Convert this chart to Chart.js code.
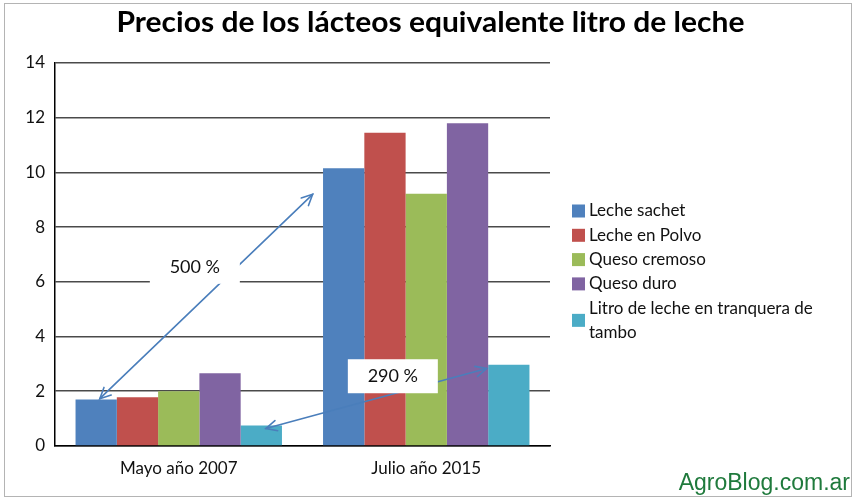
<!DOCTYPE html>
<html>
<head>
<meta charset="utf-8">
<script src="https://cdn.jsdelivr.net/npm/chart.js@4"></script>
<style>
  html, body { margin: 0; padding: 0; background: #fff; }
  #wrap { position: relative; width: 861px; height: 504px; }
  #frame { position: absolute; left: 4px; top: 3px; width: 848px; height: 494px; border: 1px solid #b4b4b4; box-sizing: border-box; pointer-events: none; }
  #marca { position: absolute; right: 11px; top: 469px; font: 23px "Liberation Sans", Arial, sans-serif; color: #1f7a3c; }
</style>
</head>
<body>
<div id="wrap">
  <canvas id="chart" width="861" height="504"></canvas>
  <div id="frame"></div>
  <div id="marca">AgroBlog.com.ar</div>
</div>
<script>
// datos
const titulo = 'Precios de los lácteos equivalente litro de leche';
const periodos = ['Mayo año 2007', 'Julio año 2015'];
const lecheSachet = [1.70, 10.15];
const lecheEnPolvo = [1.78, 11.45];
const quesoCremoso = [2.0, 9.22];
const quesoDuro = [2.66, 11.8];
const litroTambo = [0.75, 2.97];
const nombres = ['Leche sachet', 'Leche en Polvo', 'Queso cremoso', 'Queso duro', 'Litro de leche en tranquera de tambo'];
const colores = ['#4f81bd', '#c0504d', '#9bbb59', '#8064a2', '#4bacc6'];
const ticksY = [0, 2, 4, 6, 8, 10, 12, 14];

// flechas con porcentaje (en coordenadas de los ejes)
const textoFlechas = ['500 %', '290 %'];
const posTexto = [[0.065, 6.55], [0.865, 2.55]];
const desde = [[-0.319, 1.73], [0.352, 0.64]];
const hasta = [[0.541, 9.2], [1.244, 2.83]];

const fuente = 'Lato, "Open Sans", sans-serif';

// título centrado en todo el lienzo (el de Chart.js queda corrido por el padding)
const tituloPlugin = {
    id: 'tituloPlugin',
    afterDraw(chart) {
        const c = chart.ctx;
        c.save();
        c.font = 'bold 28px ' + fuente;
        c.fillStyle = '#000';
        c.textBaseline = 'alphabetic';
        const w = c.measureText(titulo).width;
        const k = 628 / w;
        c.translate(chart.width / 2, 32);
        c.scale(k, 1);
        c.textAlign = 'center';
        c.fillText(titulo, 0, 0);
        c.restore();
    }
};

// leyenda a la derecha, dibujada a mano para poder cortar el texto largo
const leyenda = {
    id: 'leyenda',
    afterDraw(chart) {
        const c = chart.ctx;
        c.save();
        c.font = '17px ' + fuente;
        c.textBaseline = 'middle';
        c.fillStyle = '#111';
        let y = 211;
        chart.data.datasets.forEach(ds => {
            // partir en líneas
            const palabras = ds.label.split(' ');
            const lineas = [];
            let actual = '';
            palabras.forEach(p => {
                const prueba = actual ? actual + ' ' + p : p;
                if (c.measureText(prueba).width > 250 && actual) {
                    lineas.push(actual);
                    actual = p;
                } else {
                    actual = prueba;
                }
            });
            lineas.push(actual);
            const medio = y + (lineas.length - 1) * 24.3 / 2;
            c.fillStyle = ds.backgroundColor;
            c.fillRect(572, medio - 6.5, 13, 13);
            c.fillStyle = '#111';
            lineas.forEach((l, i) => c.fillText(l, 589, y + i * 24.3));
            y += lineas.length * 24.3;
        });
        c.restore();
    }
};

function flecha(c, x1, y1, x2, y2) {
    const ang = Math.atan2(y2 - y1, x2 - x1);
    c.beginPath();
    c.moveTo(x1, y1);
    c.lineTo(x2, y2);
    c.stroke();
    [[x1, y1, ang + Math.PI], [x2, y2, ang]].forEach(([x, y, a]) => {
        c.beginPath();
        c.moveTo(x - 12 * Math.cos(a - 0.45), y - 12 * Math.sin(a - 0.45));
        c.lineTo(x, y);
        c.lineTo(x - 12 * Math.cos(a + 0.45), y - 12 * Math.sin(a + 0.45));
        c.stroke();
    });
}

const anotaciones = {
    id: 'anotaciones',
    afterDatasetsDraw(chart) {
        const c = chart.ctx;
        const sx = chart.scales.x, sy = chart.scales.y;
        c.save();
        c.strokeStyle = '#4a7ebb';
        c.lineWidth = 1.6;
        c.lineCap = 'round';
        textoFlechas.forEach((t, i) => {
            flecha(c, sx.getPixelForValue(desde[i][0]), sy.getPixelForValue(desde[i][1]),
                sx.getPixelForValue(hasta[i][0]), sy.getPixelForValue(hasta[i][1]));
        });
        c.font = '18px ' + fuente;
        c.textAlign = 'center';
        c.textBaseline = 'middle';
        textoFlechas.forEach((t, i) => {
            const x = sx.getPixelForValue(posTexto[i][0]);
            const y = sy.getPixelForValue(posTexto[i][1]);
            c.fillStyle = '#fff';
            c.fillRect(x - 45, y - 17, 90, 34);
            c.fillStyle = '#111';
            c.fillText(t, x, y);
        });
        c.restore();
    }
};

const series = [lecheSachet, lecheEnPolvo, quesoCremoso, quesoDuro, litroTambo];

const ctx = document.getElementById('chart').getContext('2d');
const chart = new Chart(ctx, {
    type: 'bar',
    data: {
        labels: periodos,
        datasets: series.map((d, i) => ({
            label: nombres[i],
            data: d,
            backgroundColor: colores[i],
            borderWidth: 0,
            barPercentage: 1,
            categoryPercentage: 0.834
        }))
    },
    options: {
        responsive: false,
        animation: false,
        layout: { padding: { left: 0, right: 311, top: 63, bottom: 0 } },
        plugins: {
            legend: { display: false },
            tooltip: { enabled: false },
            title: { display: false }
        },
        scales: {
            x: {
                grid: { display: false, drawTicks: false },
                border: { display: true, color: '#000', width: 1.5 },
                ticks: { font: { family: fuente, size: 17 }, color: '#111', padding: 12 },
                afterFit(s) { s.height = 58; }
            },
            y: {
                min: 0,
                max: 14,
                afterBuildTicks(s) { s.ticks = ticksY.map(v => ({ value: v })); },
                grid: { color: '#4a4a4a', lineWidth: 1.6, drawTicks: false },
                border: { display: true, color: '#000', width: 1.5 },
                ticks: { font: { family: fuente, size: 17 }, color: '#111', padding: 10 },
                afterFit(s) { s.width = 55; }
            }
        }
    },
    plugins: [tituloPlugin, leyenda, anotaciones]
});
</script>
</body>
</html>
